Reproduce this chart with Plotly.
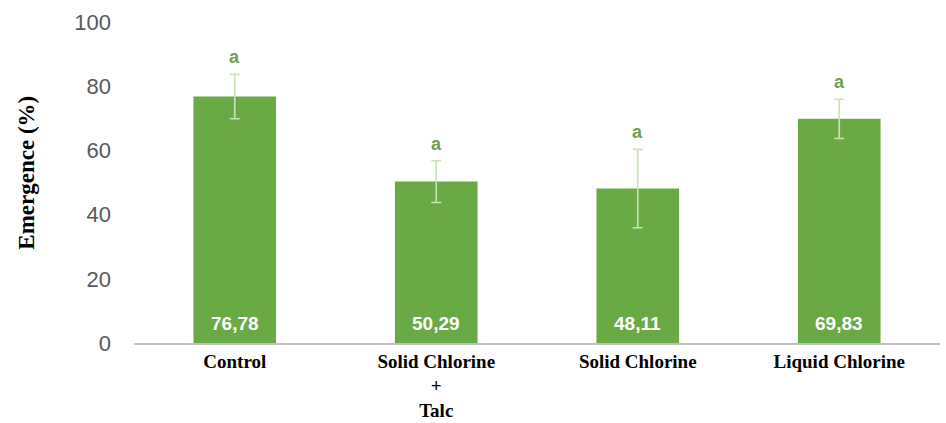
import plotly.graph_objects as go

categories = ["Control", "Solid Chlorine<br>+<br>Talc", "Solid Chlorine", "Liquid Chlorine"]
means = [76.78, 50.29, 48.11, 69.83]
errors = [6.9, 6.5, 12.2, 6.1]
letters = ["a", "a", "a", "a"]
y_ticks = [0, 20, 40, 60, 80, 100]

bar_labels = [f"{v:.2f}".replace(".", ",") for v in means]

fig = go.Figure()
fig.add_trace(go.Bar(
    x=categories,
    y=means,
    marker=dict(color="#6aaa44", line=dict(width=0)),
    error_y=dict(type="data", array=errors, visible=True, color="#c9e3b8", thickness=1.6, width=5),
    hoverinfo="skip",
    width=0.41,
))

for c, lab in zip(categories, bar_labels):
    fig.add_annotation(
        x=c, y=0, text=lab, showarrow=False, yanchor="bottom", yshift=7,
        font=dict(family="Liberation Sans, Arial", size=19, color="white", weight="bold"),
    )

for c, m, e, l in zip(categories, means, errors, letters):
    fig.add_annotation(
        x=c, y=m + e, text=l, showarrow=False, yanchor="bottom", yshift=5,
        font=dict(family="Liberation Sans, Arial", size=18, color="#6f9f50", weight="bold"),
    )

fig.add_annotation(
    xref="paper", yref="paper", x=-0.133, y=0.53, text="Emergence (%)", textangle=-90,
    showarrow=False, xanchor="center", yanchor="middle",
    font=dict(family="Liberation Serif, Times New Roman", size=23, color="black", weight="bold"),
)

fig.update_layout(
    width=946, height=423,
    margin=dict(l=134, r=6, t=22, b=80),
    paper_bgcolor="white", plot_bgcolor="white",
    showlegend=False,
    bargap=0.59,
    xaxis=dict(
        showline=True, linecolor="#bfbfbf", linewidth=1.5, showgrid=False, zeroline=False,
        tickfont=dict(family="Liberation Serif, Times New Roman", size=19, color="black", weight="bold"),
        ticks="", automargin=False,
    ),
    yaxis=dict(
        range=[0, 100], tickvals=y_ticks, showgrid=False, zeroline=False, showline=False,
        tickfont=dict(family="Liberation Sans, Arial", size=22, color="#595959"),
        ticklabelstandoff=22, automargin=False,
    ),
)

fig.write_html("out.html")
